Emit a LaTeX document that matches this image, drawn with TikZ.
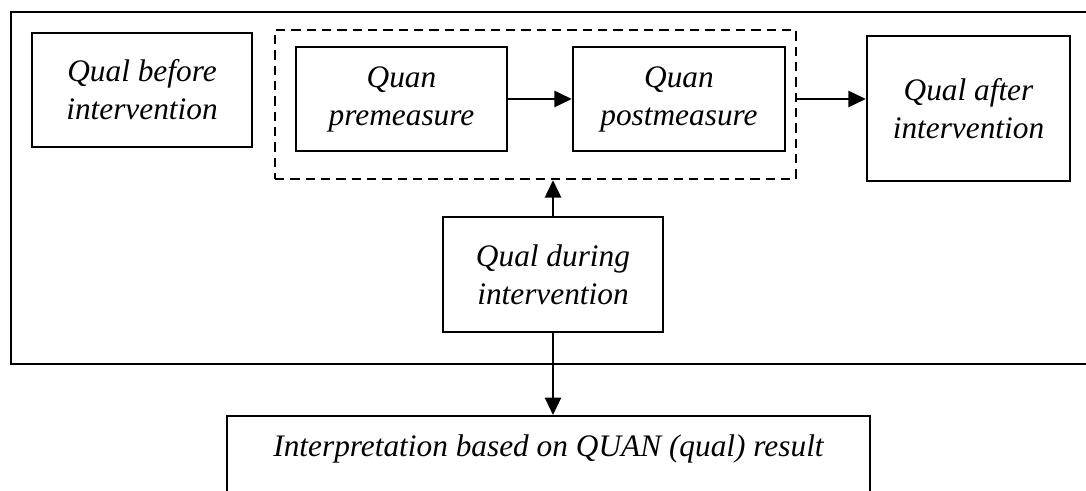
\documentclass[tikz,border=0pt]{standalone}
\usepackage{fontspec}
\setmainfont{Liberation Serif}
\usetikzlibrary{positioning,calc,arrows.meta}

\begin{document}
\begin{tikzpicture}[x=0.75pt,y=-0.75pt,
      stage/.style={draw,line width=1.8pt,align=center,inner sep=0pt,font=\itshape\fontsize{23.5}{28.5}\selectfont},
      group/.style={draw,line width=1.8pt,dash pattern=on 7pt off 4.5pt,inner sep=0pt},
      flow/.style={line width=1.8pt,-{Triangle[length=13pt,width=12pt]}}]
      \useasboundingbox (0,0) rectangle (1086,491);
      \draw[line width=1.8pt] (11,12) rectangle (1110,364);

      \node[stage,minimum width=165pt,minimum height=85.5pt] (before) at (142,90) {Qual before\\intervention};
      \node[group,minimum width=390.75pt,minimum height=111.75pt] (quan) at (535.5,104.5) {};
      \node[stage,minimum width=158.25pt,minimum height=78pt] (pre) at (401.5,99) {Quan\\premeasure};
      \node[stage,minimum width=159pt,minimum height=78pt] (post) at (679,99) {Quan\\postmeasure};
      \node[stage,minimum width=152.25pt,minimum height=108.75pt] (after) at (968.5,108.5) {Qual after\\intervention};
      \node[stage,minimum width=165pt,minimum height=86.25pt] (during) at (553,274.5) {Qual during\\intervention};
      \node[stage,anchor=north,minimum width=482.25pt,text height=30pt,text depth=70pt] (interp) at (548.5,415) {Interpretation based on QUAN (qual) result};

      \draw[flow] (pre.east) -- (post.west);
      \draw[flow] (quan.east |- pre.east) -- (pre.east -| after.west);
      \draw[flow] (during.north) -- (during.north |- quan.south);
      \draw[flow] (during.south) -- (during.south |- interp.north);
\end{tikzpicture}
\end{document}
